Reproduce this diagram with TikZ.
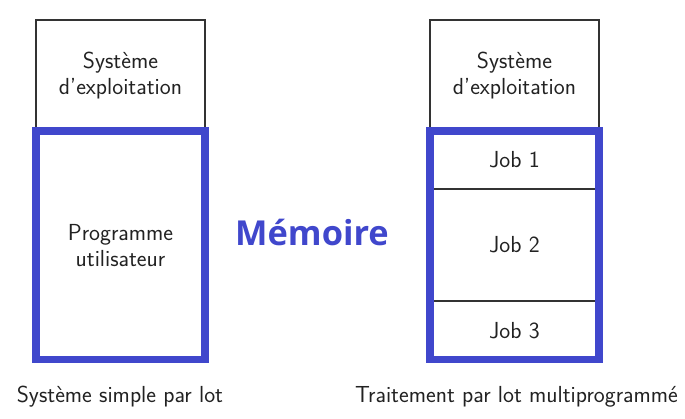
\documentclass[tikz,border=0pt]{standalone}
\usepackage{fontspec}
\newfontfamily\memfont{Open Sans}
\usetikzlibrary{positioning}

\definecolor{memblue}{RGB}{64,71,204}
\definecolor{linegray}{RGB}{51,51,51}
\definecolor{textgray}{RGB}{34,34,34}

\tikzset{
  txt/.style={font=\sffamily\fontsize{23.2}{26}\selectfont, text=textgray, align=center},
  cell/.style={txt, draw=linegray, line width=1.3pt, minimum width=169pt, inner sep=0pt, outer sep=0pt},
  frame/.style={draw=memblue, line width=7.7pt, minimum width=169pt, minimum height=228.5pt, inner sep=0pt, outer sep=0pt}
}

\begin{document}
\begin{tikzpicture}[x=1pt, y=-1pt]
  \useasboundingbox (0,0) rectangle (685,418);
  % Systeme simple
  \node[cell, minimum height=111pt] (os1) at (120.5,75.5) {Système\\d’exploitation};
  \node[frame, txt] (prog) at (120.5,245.25) {Programme\\utilisateur};
  \node[txt] (lbl1) at (120,397) {Système simple par lot};
  % Multiprogrammation
  \node[cell, minimum height=111pt] (os2) at (514.5,75.5) {Système\\d’exploitation};
  \node[cell, minimum height=58pt] (job1) at (514.5,160) {Job 1};
  \node[cell, minimum height=112pt, below=0pt of job1] (job2) {Job 2};
  \node[cell, minimum height=58.5pt, below=0pt of job2] (job3) {Job 3};
  \node[frame] (multi) at (514.5,245.25) {};
  \node[txt] (lbl2) at (516.5,397) {Traitement par lot multiprogrammé};
  % Titre
  \node[font=\memfont\bfseries\fontsize{34.4}{40}\selectfont, text=memblue] (mem) at (312,232) {Mémoire};
\end{tikzpicture}
\end{document}
